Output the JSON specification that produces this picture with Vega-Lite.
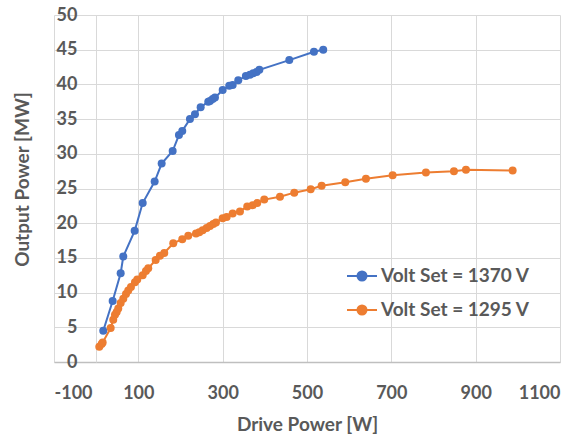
{
  "$schema": "https://vega.github.io/schema/vega-lite/v6.json",
  "autosize": {"type": "none"},
  "padding": {"left": 54, "top": 15, "right": 23, "bottom": 72},
  "width": 506,
  "height": 347,
  "background": "white",
  "config": {
    "view": {"stroke": null},
    "font": "Lato",
    "axis": {"labelFont": "Lato", "titleFont": "Lato", "labelFontWeight": "bold", "titleFontWeight": "bold", "labelColor": "#595959", "titleColor": "#595959", "gridColor": "#d9d9d9", "gridWidth": 1, "ticks": false}
  },
  "data": {"values": [
    {"s": "Volt Set = 1370 V", "x": 16.8, "y": 4.5},
    {"s": "Volt Set = 1370 V", "x": 39.1, "y": 8.8},
    {"s": "Volt Set = 1370 V", "x": 58.1, "y": 12.8},
    {"s": "Volt Set = 1370 V", "x": 64.3, "y": 15.2},
    {"s": "Volt Set = 1370 V", "x": 91.3, "y": 18.9},
    {"s": "Volt Set = 1370 V", "x": 110.3, "y": 22.9},
    {"s": "Volt Set = 1370 V", "x": 138.7, "y": 26.0},
    {"s": "Volt Set = 1370 V", "x": 155.3, "y": 28.6},
    {"s": "Volt Set = 1370 V", "x": 181.4, "y": 30.4},
    {"s": "Volt Set = 1370 V", "x": 196.3, "y": 32.7},
    {"s": "Volt Set = 1370 V", "x": 204.2, "y": 33.3},
    {"s": "Volt Set = 1370 V", "x": 222.4, "y": 35.0},
    {"s": "Volt Set = 1370 V", "x": 234.3, "y": 35.7},
    {"s": "Volt Set = 1370 V", "x": 247.8, "y": 36.7},
    {"s": "Volt Set = 1370 V", "x": 265.8, "y": 37.5},
    {"s": "Volt Set = 1370 V", "x": 270.0, "y": 37.6},
    {"s": "Volt Set = 1370 V", "x": 276.3, "y": 37.9},
    {"s": "Volt Set = 1370 V", "x": 281.7, "y": 38.1},
    {"s": "Volt Set = 1370 V", "x": 300.0, "y": 39.2},
    {"s": "Volt Set = 1370 V", "x": 315.6, "y": 39.8},
    {"s": "Volt Set = 1370 V", "x": 323.7, "y": 39.9},
    {"s": "Volt Set = 1370 V", "x": 337.0, "y": 40.6},
    {"s": "Volt Set = 1370 V", "x": 355.0, "y": 41.2},
    {"s": "Volt Set = 1370 V", "x": 364.7, "y": 41.4},
    {"s": "Volt Set = 1370 V", "x": 372.5, "y": 41.6},
    {"s": "Volt Set = 1370 V", "x": 380.6, "y": 41.8},
    {"s": "Volt Set = 1370 V", "x": 387.0, "y": 42.1},
    {"s": "Volt Set = 1370 V", "x": 458.0, "y": 43.5},
    {"s": "Volt Set = 1370 V", "x": 516.5, "y": 44.7},
    {"s": "Volt Set = 1370 V", "x": 538.5, "y": 45.0},
    {"s": "Volt Set = 1295 V", "x": 7.4, "y": 2.2},
    {"s": "Volt Set = 1295 V", "x": 13.0, "y": 2.6},
    {"s": "Volt Set = 1295 V", "x": 15.4, "y": 2.8},
    {"s": "Volt Set = 1295 V", "x": 34.4, "y": 4.9},
    {"s": "Volt Set = 1295 V", "x": 40.5, "y": 6.1},
    {"s": "Volt Set = 1295 V", "x": 44.6, "y": 6.8},
    {"s": "Volt Set = 1295 V", "x": 48.6, "y": 7.2},
    {"s": "Volt Set = 1295 V", "x": 52.4, "y": 7.7},
    {"s": "Volt Set = 1295 V", "x": 58.1, "y": 8.5},
    {"s": "Volt Set = 1295 V", "x": 64.3, "y": 9.1},
    {"s": "Volt Set = 1295 V", "x": 70.7, "y": 9.8},
    {"s": "Volt Set = 1295 V", "x": 76.1, "y": 10.3},
    {"s": "Volt Set = 1295 V", "x": 82.5, "y": 10.8},
    {"s": "Volt Set = 1295 V", "x": 92.0, "y": 11.5},
    {"s": "Volt Set = 1295 V", "x": 97.5, "y": 11.9},
    {"s": "Volt Set = 1295 V", "x": 110.3, "y": 12.5},
    {"s": "Volt Set = 1295 V", "x": 118.1, "y": 13.1},
    {"s": "Volt Set = 1295 V", "x": 123.5, "y": 13.5},
    {"s": "Volt Set = 1295 V", "x": 141.1, "y": 14.7},
    {"s": "Volt Set = 1295 V", "x": 151.3, "y": 15.3},
    {"s": "Volt Set = 1295 V", "x": 161.5, "y": 15.7},
    {"s": "Volt Set = 1295 V", "x": 182.8, "y": 17.1},
    {"s": "Volt Set = 1295 V", "x": 204.2, "y": 17.7},
    {"s": "Volt Set = 1295 V", "x": 218.4, "y": 18.2},
    {"s": "Volt Set = 1295 V", "x": 236.7, "y": 18.5},
    {"s": "Volt Set = 1295 V", "x": 244.5, "y": 18.7},
    {"s": "Volt Set = 1295 V", "x": 252.5, "y": 19.0},
    {"s": "Volt Set = 1295 V", "x": 262.0, "y": 19.3},
    {"s": "Volt Set = 1295 V", "x": 269.9, "y": 19.6},
    {"s": "Volt Set = 1295 V", "x": 277.7, "y": 19.9},
    {"s": "Volt Set = 1295 V", "x": 284.1, "y": 20.1},
    {"s": "Volt Set = 1295 V", "x": 300.0, "y": 20.7},
    {"s": "Volt Set = 1295 V", "x": 309.5, "y": 20.9},
    {"s": "Volt Set = 1295 V", "x": 323.7, "y": 21.4},
    {"s": "Volt Set = 1295 V", "x": 341.0, "y": 21.7},
    {"s": "Volt Set = 1295 V", "x": 358.3, "y": 22.4},
    {"s": "Volt Set = 1295 V", "x": 371.1, "y": 22.6},
    {"s": "Volt Set = 1295 V", "x": 382.0, "y": 22.9},
    {"s": "Volt Set = 1295 V", "x": 398.6, "y": 23.4},
    {"s": "Volt Set = 1295 V", "x": 435.9, "y": 23.8},
    {"s": "Volt Set = 1295 V", "x": 469.8, "y": 24.4},
    {"s": "Volt Set = 1295 V", "x": 508.7, "y": 24.9},
    {"s": "Volt Set = 1295 V", "x": 534.7, "y": 25.4},
    {"s": "Volt Set = 1295 V", "x": 590.7, "y": 25.9},
    {"s": "Volt Set = 1295 V", "x": 639.8, "y": 26.4},
    {"s": "Volt Set = 1295 V", "x": 703.1, "y": 26.9},
    {"s": "Volt Set = 1295 V", "x": 782.0, "y": 27.3},
    {"s": "Volt Set = 1295 V", "x": 848.5, "y": 27.5},
    {"s": "Volt Set = 1295 V", "x": 877.0, "y": 27.7},
    {"s": "Volt Set = 1295 V", "x": 987.7, "y": 27.6}
  ]},
  "mark": {"type": "line", "strokeWidth": 2, "point": {"filled": true, "size": 64, "opacity": 1}},
  "encoding": {
    "x": {"field": "x", "type": "quantitative", "scale": {"domain": [-100, 1100], "nice": false, "zero": false},
      "axis": {"values": [-100, 100, 300, 500, 700, 900, 1100], "labelExpr": "'' + datum.value", "title": "Drive Power [W]", "labelFontSize": 18, "labelBaseline": "alphabetic", "labelPadding": 36, "titleFontSize": 19, "titleBaseline": "alphabetic", "titleY": 68, "domainColor": "#bfbfbf", "domainWidth": 1.3}},
    "y": {"field": "y", "type": "quantitative", "scale": {"domain": [0, 50], "nice": false},
      "axis": {"values": [0, 5, 10, 15, 20, 25, 30, 35, 40, 45, 50], "labelExpr": "'' + datum.value", "title": "Output Power [MW]", "offset": -42, "labelFontSize": 18, "labelPadding": 19, "labelBaseline": "middle", "titleFontSize": 19, "titleAngle": -90, "titleBaseline": "alphabetic", "titleAlign": "center", "titleX": -68, "titleY": 164, "domainColor": "#d9d9d9", "domainWidth": 1}},
    "color": {"field": "s", "type": "nominal",
      "scale": {"domain": ["Volt Set = 1370 V", "Volt Set = 1295 V"], "range": ["#4472C4", "#ED7D31"]},
      "legend": {"title": null, "orient": "none", "legendX": 292, "legendY": 245, "padding": 0,
        "symbolType": "M-1,0L1,0M-0.3,0A0.3,0.3,0,1,1,0.3,0A0.3,0.3,0,1,1,-0.3,0Z",
        "symbolSize": 900, "symbolStrokeWidth": 2, "labelFont": "Lato", "labelFontWeight": "bold", "labelFontSize": 19, "labelColor": "#595959", "labelOffset": 3, "rowPadding": 8,
        "encode": {"symbols": {"update": {"fill": {"scale": "color", "field": "value"}, "stroke": {"scale": "color", "field": "value"}, "opacity": {"value": 1}}}}}}
  }
}
